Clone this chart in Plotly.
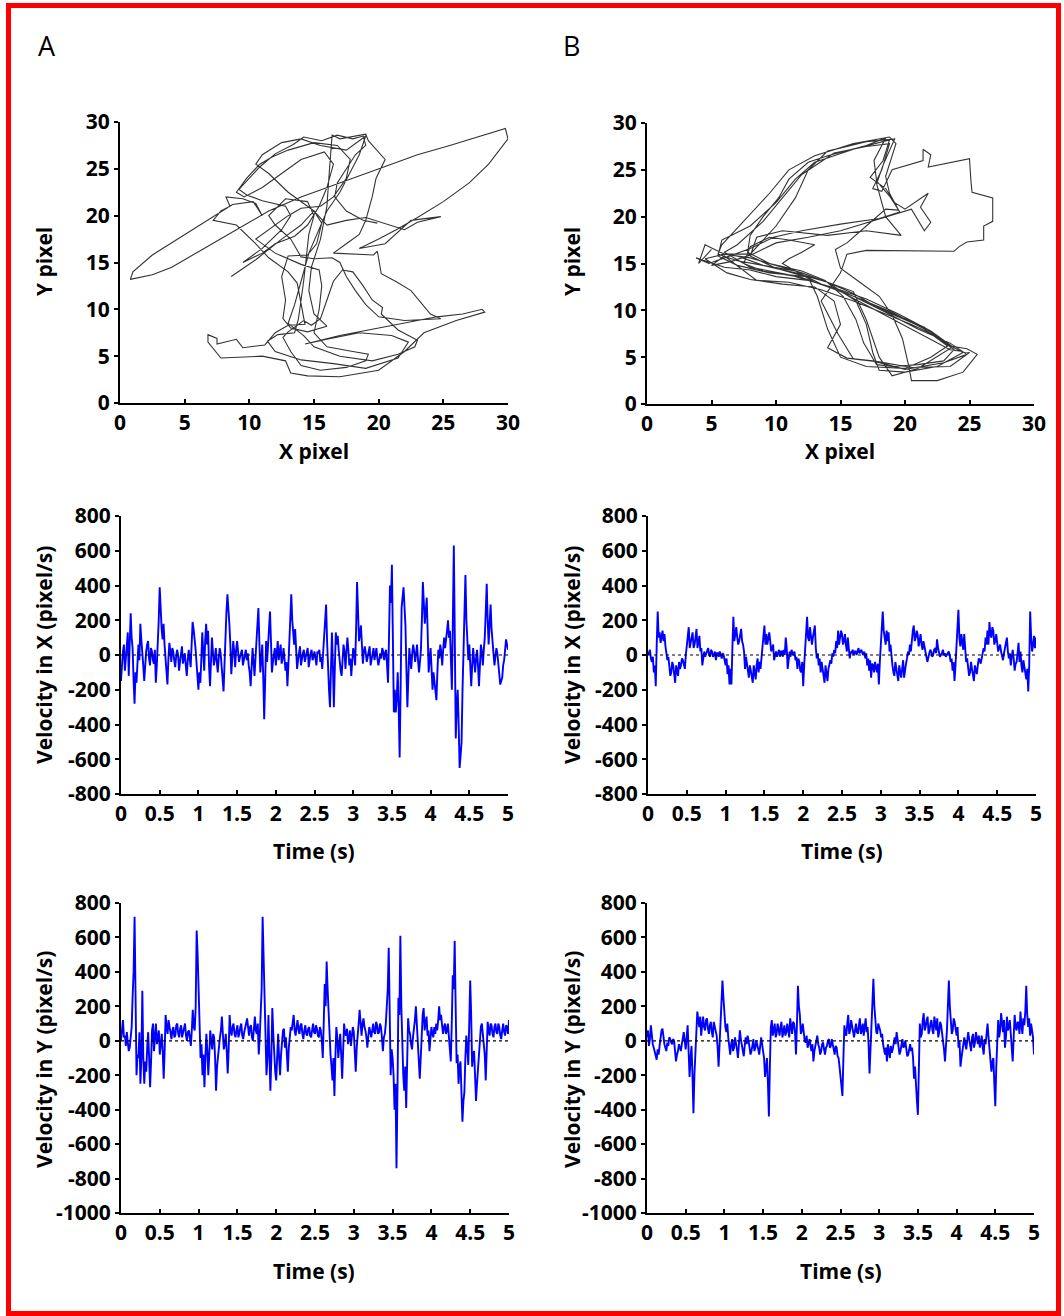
import numpy as np
import plotly.graph_objects as go

# ---------------- data ----------------
sample_step = 0.0125  # s between samples (0..5 s)

vx_a = [-150, -40, 20, 60, -90, -20, 60, 130, -120, 20, 240, 100, 40, -150, -280, -100, -160, -50, 60, -30,
        180, 90, 30, -60, -150, -40, 20, 60, 80, -20, -60, 40, 20, -30, -50, 30, -160, -60, 50, 200,
        390, 220, 150, 90, 180, 60, -40, -110, -170, -20, 70, 20, -40, 40, 20, -30, -70, -10, 30, 0,
        -90, -40, 20, 50, -50, -20, 10, -60, -120, -30, 30, -20, -70, 60, 190, 150, 110, 40, -40, -150,
        -200, -100, -160, -30, 130, 20, -90, 80, 180, 60, 140, -60, -180, -40, 100, 20, -60, -20, 40, -40,
        -100, -20, 40, 10, -70, -130, -210, -50, 150, 250, 350, 280, 180, 60, -110, -20, 80, 20, -70, 30,
        80, 20, -40, -10, 10, 30, -60, -20, 10, 30, -30, 10, -60, -100, -180, -60, 40, -40, -120, -20,
        60, 150, 270, 80, -100, -30, 60, -120, -370, -150, 80, -40, 40, 120, 250, 80, -100, -40, 20, 40,
        -60, 20, 80, -30, 20, 60, -50, -20, 40, -30, -90, -40, -180, -60, 60, 200, 350, 200, 120, 60,
        150, 30, -80, -30, 20, 50, -60, -10, 10, 30, -40, -10, 20, 40, -70, -20, 10, 30, -30, -10,
        20, -20, -60, 20, 10, 30, -40, -10, -80, 20, 100, 200, 290, 80, -120, -200, -300, -100, 130, -50,
        -300, -80, 130, 60, 110, 30, -40, -90, -120, -40, 60, 20, -80, 20, 100, 30, -60, -20, -120, -40,
        40, 10, -60, 150, 420, 250, 80, 120, 170, 60, -50, 20, 50, 10, -40, -10, 30, 50, -60, -20,
        20, 40, -30, 10, 40, -20, -60, -30, 10, -20, 40, 20, -30, 10, 30, -60, -160, 100, 400, 300,
        520, 100, -330, -200, -330, -250, -100, -300, -590, -200, 270, 330, 390, 280, 170, -80, -300, -130, 40, -30,
        -80, 10, 60, 20, -40, 10, 60, -30, -100, -40, 30, 200, 420, 300, 180, 250, 330, 120, -100, -30,
        40, -80, -200, -100, -150, -220, -260, -100, 30, -20, 60, 20, -60, 30, 100, 40, 80, 140, 200, 100,
        140, -40, -200, 200, 630, 100, -480, -300, -200, -400, -650, -580, -500, -200, 40, 250, 460, 200, 100, -30,
        60, -60, -180, -60, 40, -30, -100, -20, 30, -60, -180, -60, 60, 20, -60, 30, 100, 250, 410, 200,
        60, 180, 290, 150, 80, 10, -60, -10, 40, 10, -40, -100, -170, -150, -130, -60, -30, 30, 90, 60,
        30]

vy_a = [0, 60, 120, 20, 30, -30, 50, -10, -60, -40, 20, 80, 260, 400, 720, 250, -200, -80, -100, 50,
        -250, -100, 290, -100, -250, -120, -180, -40, 50, -100, -270, -120, 60, 100, -60, 20, 100, -20, 20, 60,
        -80, -30, 40, -60, -220, -60, 150, 80, 40, 120, 90, 40, 10, 60, 80, 20, 30, 90, 100, 40,
        20, 70, 90, 20, 50, 80, 100, 30, 0, 50, 60, 20, -30, 60, 180, 80, 60, 200, 640, 500,
        340, 100, -100, -20, -200, -80, -270, -100, 40, -60, -200, -80, 60, 0, -50, 40, 20, -100, -290, -150,
        -80, -20, 20, 60, 140, 40, -50, -20, 40, -60, -190, -50, 150, 60, 30, 80, 100, 40, 20, 60,
        90, 20, 40, 80, 100, 30, 10, 50, 70, 100, 130, 60, 30, 80, 90, 20, 0, 70, 140, 60,
        40, 100, -80, 20, 150, 300, 720, 500, 350, 100, -200, -100, 150, -80, -290, -100, 190, 40, -100, -180,
        -230, -80, 40, -100, -200, -80, 30, 60, 70, -40, 20, -60, -180, -40, 40, 80, 60, 100, 150, 60,
        30, 80, 120, 60, 40, 90, 100, 40, 10, 60, 90, 40, 30, 70, 80, 30, 20, 60, 100, 50,
        40, 90, 70, 30, 20, 80, 60, 0, -100, 100, 330, 200, 460, 300, 130, 20, -80, -150, -230, -100,
        -320, -100, 80, 20, -100, -30, 40, -80, -220, -60, 100, 40, 30, 70, -20, 20, 60, -30, 20, 80,
        50, -60, -180, -40, 60, 100, 180, 60, 30, 100, 130, 80, 60, 20, -40, 30, 80, 50, 20, 60,
        100, 50, 40, 110, 90, 40, 50, 100, 80, 20, -60, 20, 40, 100, 200, 300, 540, 100, -200, -50,
        -100, -200, -400, -250, -740, -300, 250, 150, 610, 200, -100, -200, -290, -150, -390, -100, 130, 60, 40, -20,
        -50, 20, 60, 120, 200, 90, 30, -60, -220, -100, 80, 150, 190, 60, 100, 140, 30, 60, -60, 20,
        80, 40, 20, 80, 40, 100, 60, 120, 200, 120, 150, 90, 40, 80, 100, 40, 60, 100, 30, -40,
        -120, 100, 380, 300, 580, 200, -130, -80, -250, -150, -120, -300, -470, -350, -300, -100, 30, -40, -140, 100,
        350, 150, -150, -80, -60, -200, -350, -250, -150, -60, 40, 80, 100, 40, 20, -80, -230, -100, 110, 60,
        30, 100, 90, 40, 20, 80, 100, 50, 40, 100, 80, 30, 10, 60, 100, 50, 30, 90, 80, 40,
        120]

vx_b = [0, 20, 30, -20, -40, -10, -100, -60, -180, 60, 250, 100, 130, 70, 110, 140, 80, 120, 50, 10,
        -30, -10, -60, -120, -100, -40, -60, -130, -160, -60, -90, -120, -40, -80, -60, -20, -30, -50, -80, 0,
        60, 100, 160, 40, 80, 120, 130, 40, 60, 100, 150, 40, 80, 110, 20, 40, -60, 0, 20, -10,
        10, 30, 40, 0, -10, 30, 20, -10, 0, 20, -30, 10, 10, -10, 20, 0, -20, 10, 0, -30,
        -60, -20, -110, -60, -170, -80, -170, 40, 220, 80, 120, 160, 100, 60, 80, 120, 150, 80, 60, 20,
        -80, -10, -40, -90, -130, -60, -90, -140, -160, -60, -100, -140, -60, -20, -100, -40, -80, -20, 70, 120,
        170, 60, 120, 60, 90, 130, 80, 20, 40, 60, -30, 0, 20, -10, 10, 30, -10, 20, 20, -10,
        30, 0, 100, 40, -80, -20, 20, -10, 30, 10, 0, 20, -30, -10, -80, -20, -40, -90, -100, -40,
        -180, -60, 60, 120, 220, 100, 80, 160, 120, 60, 100, 140, 170, 40, -20, 10, -60, -20, -100, -40,
        -80, -120, -160, -60, -120, -150, -80, -40, -30, -50, 10, -10, 30, 10, 80, 40, 140, 60, 110, 140,
        120, 60, 80, 120, 60, 20, 100, 40, -20, 20, 10, 30, 0, 20, 20, 0, 30, 40, 10, 20,
        30, 10, 0, 20, -20, 10, -60, -20, -90, -30, -130, -50, -60, -100, -40, -70, -100, -50, -170, -40,
        40, 150, 250, 140, 100, 60, 140, 80, 130, 20, 60, -20, -60, -100, -120, -40, -80, -140, -150, -60,
        -100, -130, -80, -30, -130, -80, -50, -20, 20, 0, 60, 20, 100, 140, 170, 80, 100, 140, 120, 50,
        80, 120, 60, 30, 80, 40, 20, -10, -40, 0, 10, 30, 20, -10, 0, 30, 40, 10, 90, 40,
        20, -10, 0, 10, 30, 0, 10, -10, 0, 10, 20, 0, -40, -20, -90, -40, -150, -60, 60, 150,
        260, 100, 50, 120, 80, 30, 120, 40, -40, -20, -60, -120, -100, -40, -80, -130, -150, -60, -90, -110,
        -60, -20, -30, -50, -20, 10, 40, 20, 100, 60, 140, 60, 190, 120, 100, 160, 140, 60, 80, 120,
        60, 20, 40, 60, 20, 0, -30, 10, 40, 80, 100, 20, -20, 10, -60, -10, 30, -20, -90, -50,
        -40, 10, 70, -40, 20, -60, -100, -30, -60, -100, -140, -80, -210, -60, 250, 100, 20, 60, 110, 40,
        100]

vy_b = [20, 60, -30, 10, 90, 30, -20, -40, -60, -90, -110, -50, -80, -30, 20, 60, 70, 10, -20, -40,
        -60, -10, -30, 20, 10, -10, -20, 10, 0, -60, -120, -80, -60, -20, -40, -60, -20, 20, 50, 0,
        -50, 20, 90, -60, -210, -100, -30, -200, -420, -200, -50, 80, 170, 120, 80, 140, 30, 90, 140, 80,
        60, 120, 130, 70, 40, 90, 110, 50, 20, 110, 80, 40, 30, -40, -150, -20, 100, 200, 350, 250,
        150, 80, 50, 100, 20, -30, -80, -20, 10, -60, -40, 20, -10, -50, -100, -20, 60, 10, -20, -60,
        -90, -30, 20, -20, 30, 0, -30, -80, -60, -20, 10, -60, -40, 0, -20, -50, -80, -30, 20, -20,
        -50, -100, -210, -150, -100, -250, -440, -150, 80, 120, 30, 60, 100, 20, 40, 100, 60, 30, 80, 110,
        20, 60, 90, 30, 50, 100, 60, 20, 130, 70, 40, 110, 100, 50, -80, 100, 320, 200, 150, 40,
        60, 100, 30, 0, -10, 30, -40, -20, 10, -30, -60, -20, -120, -60, -20, 10, 30, -20, -40, -80,
        -60, -20, -10, -50, -80, -40, -30, 0, 10, -40, -30, 10, -20, -60, -80, -30, -40, -90, -100, -150,
        -210, -260, -320, -100, 90, 40, 30, 100, 150, 40, 60, 120, 80, 40, 20, 60, 100, 50, 40, 90,
        130, 40, 60, 100, 30, 80, 130, 50, 80, -20, -190, -50, 100, 200, 360, 200, 100, 50, 40, 100,
        80, 60, 20, 40, -20, -50, -80, -40, -120, -20, -60, -100, -30, -70, -50, 0, 20, -20, 50, 10,
        -40, -80, -60, -20, 10, -40, -30, 0, -50, -90, -80, -40, -20, -60, -40, -100, -220, -150, -300, -350,
        -430, -100, 100, 20, 40, 120, 160, 60, 80, 120, 140, 40, 60, 100, 120, 60, 40, 140, 100, 60,
        130, 20, 50, 110, 90, 40, 20, -50, -120, -40, 60, 200, 350, 200, 100, 40, 60, 130, 110, 60,
        30, 80, -40, 0, -150, -100, -60, -20, 20, -20, -50, 0, 50, 10, -30, -60, 20, 40, -40, -10,
        50, 20, -20, 30, -40, -10, 30, -40, -80, 10, -20, 40, 100, 20, -40, -100, -180, -120, -100, -250,
        -380, -150, 60, 120, 20, 60, 160, 100, 50, 120, -40, 20, 140, 60, 80, 120, 30, -40, -120, 20,
        150, 80, 60, 110, 100, 40, 170, 90, 40, 130, 90, 170, 320, 150, 80, 130, 30, 100, 60, 20,
        -80]

traj_a_x = [8.6, 10.5, 12.5, 14.0, 15.0, 15.6, 15.2, 14.5, 13.0, 12.5, 12.8, 12.6, 13.2, 14.5, 16.0, 15.0,
            14.6, 14.8, 15.5, 16.0, 16.2, 16.4, 17.0, 19.0, 19.2, 20.5, 19.8, 19.5, 19.0, 18.5, 17.5, 16.5,
            19.6, 19.9, 20.2, 21.3, 22.5, 23.2, 24.0, 24.8, 22.0, 20.0, 19.0, 18.2, 17.5, 17.0, 16.4, 15.0,
            14.0, 13.2, 12.0, 11.5, 12.8, 14.5, 15.0, 14.6, 14.2, 13.8, 13.5, 12.2, 11.4, 12.0, 14.0, 16.5,
            19.0, 21.5, 22.3, 21.0, 18.5, 16.0, 14.3, 17.0, 20.0, 22.0, 24.5, 26.5, 28.0, 28.2, 26.0, 23.5,
            22.0, 20.0, 17.0, 14.5, 13.2, 12.8, 11.0, 7.8, 6.8, 6.8, 7.5, 7.5, 9.0, 9.5, 11.2, 12.0,
            13.0, 14.3, 14.0, 13.7, 13.0, 11.5, 10.5, 9.0, 7.2, 7.8, 8.5, 8.2, 9.5, 10.5, 11.0, 10.3,
            8.7, 5.0, 2.5, 1.0, 0.8, 2.5, 4.0, 6.5, 9.0, 11.5, 14.0, 17.0, 20.0, 23.0, 25.5, 27.5,
            29.8, 30.0, 28.5, 27.0, 25.0, 23.0, 21.5, 20.0, 18.5, 20.5, 22.5, 24.8, 23.0, 22.0, 19.0, 17.5,
            16.0, 15.0, 13.0, 11.5, 10.5, 11.0, 12.5, 14.0, 15.5, 17.5, 19.0, 18.5, 17.0, 16.0, 14.6, 14.0,
            13.5, 13.0, 14.2, 15.0, 17.0, 19.5, 21.5, 22.8, 23.0,
            21.5, 20.2, 20.3, 19.5, 18.8, 18.0, 17.2, 16.5, 16.0, 15.5, 14.8, 14.2, 13.0, 12.6, 13.2, 14.0,
            15.5, 17.5, 19.0, 19.2, 18.0, 16.0, 15.0, 15.4, 15.6, 15.4, 14.0, 12.0, 10.5, 11.5, 13.0, 14.0,
            15.5, 16.5, 17.5, 17.8, 16.8, 15.0, 13.0, 11.8, 10.8, 9.8, 9.0, 9.6, 11.0, 12.5, 14.0, 15.8,
            16.5, 16.0, 15.4, 14.5, 13.5, 12.0, 11.0, 9.5,
            11.0, 12.5, 13.2, 12.8, 11.0, 9.8, 9.2, 10.0, 10.8, 12.0, 13.4, 14.2, 15.6, 16.8, 18.0, 18.8,
            19.0, 18.2, 17.5, 16.8, 16.6, 17.5, 18.8, 19.9]
traj_a_y = [13.5, 15.3, 17.5, 19.0, 20.5, 19.2, 17.0, 15.8, 15.7, 13.5, 11.0, 9.0, 8.0, 7.6, 8.2, 9.5,
            12.0, 14.5, 17.5, 21.0, 25.0, 28.6, 28.2, 28.7, 28.0, 26.0, 24.0, 22.0, 19.5, 18.0, 17.0, 16.0,
            15.8, 16.2, 13.8, 13.0, 12.0, 10.8, 9.5, 9.0, 8.8, 9.2, 10.5, 12.0, 13.5, 15.0, 15.5, 15.4,
            15.6, 17.5, 19.0, 20.0, 21.8, 21.5, 20.0, 18.0, 13.0, 9.0, 7.5, 7.3, 6.6, 5.5, 4.6, 4.2,
            3.7, 4.8, 6.5, 7.2, 7.5, 6.8, 6.3, 7.2, 8.0, 8.5, 9.2, 9.5, 10.0, 9.7, 8.8, 7.5,
            5.5, 3.5, 2.8, 2.9, 3.2, 4.5, 5.0, 4.8, 6.5, 7.3, 6.9, 6.3, 6.8, 5.9, 6.2, 7.5,
            8.3, 8.4, 10.5, 12.8, 14.0, 15.5, 17.0, 19.0, 19.5, 20.5, 21.0, 22.0, 21.8, 21.3, 20.0, 21.5,
            21.2, 18.0, 15.8, 14.0, 13.2, 13.7, 14.5, 16.5, 18.5, 20.5, 22.0, 23.5, 25.0, 26.5, 27.5, 28.3,
            29.3, 28.2, 25.5, 23.5, 21.5, 19.8, 18.6, 17.5, 16.5, 17.0, 19.5, 19.9, 19.3, 18.5, 19.8, 19.5,
            19.0, 20.5, 22.5, 24.5, 25.5, 26.5, 27.8, 28.2, 27.5, 27.0, 28.5, 26.5, 22.5, 20.5, 16.0, 13.0,
            10.5, 8.5, 7.2, 6.0, 5.0, 4.5, 5.2, 6.0, 6.7,
            7.8, 9.5, 10.2, 11.0, 12.5, 14.0, 14.2, 13.0, 11.0, 9.0, 8.3, 8.8, 7.6, 7.0, 5.5, 4.0,
            3.5, 3.8, 4.5, 5.2, 5.5, 6.0, 7.5, 10.0, 12.5, 14.2, 14.8, 16.0, 17.5, 18.5, 20.0, 20.8,
            21.0, 22.0, 24.0, 26.0, 27.5, 27.8, 27.0, 26.3, 25.5, 24.0, 22.5, 22.0, 23.0, 24.5, 26.0, 26.8,
            25.5, 23.0, 21.0, 19.0, 17.8, 17.0, 16.0, 15.0,
            16.5, 18.5, 20.0, 21.0, 21.6, 22.2, 22.8, 24.0, 25.2, 26.6, 27.6, 28.4, 28.0, 28.6, 28.2, 28.5,
            27.5, 26.5, 25.0, 23.5, 22.0, 20.5, 19.5, 19.2]

traj_b_x = [5.0, 4.0, 4.5, 6.0, 8.0, 10.0, 12.0, 14.0, 16.0, 18.0, 20.0, 22.0, 23.5, 24.8, 25.6, 24.5,
            22.5, 20.5, 20.3, 19.8, 19.0, 18.0, 16.5, 15.0, 14.6, 15.5, 17.0, 18.5, 19.5, 18.8, 18.5, 19.3,
            18.8, 16.0, 13.0, 11.0, 9.5, 7.5, 5.8, 5.5,
            7.0, 9.0, 11.5, 13.5, 16.0, 19.0, 21.5, 23.3, 22.0, 20.0, 17.0, 15.0, 14.0, 13.2, 12.5, 10.0,
            8.0, 8.5, 10.5, 14.0, 17.0, 19.7, 18.5, 17.8, 18.3, 19.2, 17.0, 14.0, 12.5, 11.5, 10.0, 8.0,
            6.0, 4.5,
            6.2, 8.0, 10.5, 13.0, 14.5, 15.0, 14.0, 15.5, 17.5, 20.0, 23.0, 24.8, 23.5, 21.0, 18.5, 16.0,
            13.5, 11.0, 8.0, 6.0, 7.0, 9.0, 10.5, 12.0, 14.5, 17.0, 18.8, 18.2, 17.5, 18.2, 19.0, 21.4,
            21.4, 22.0, 21.8, 25.0, 25.1, 25.2, 26.8, 26.8, 26.1, 26.1, 24.8, 24.2, 23.8, 20.0, 17.0, 15.5,
            15.0, 14.0, 13.5, 14.8, 16.0, 18.0, 20.5, 23.5, 25.0, 23.5, 21.0, 18.0, 15.0, 12.0, 9.0, 7.5,
            8.0, 9.5, 11.0, 13.0, 12.0, 11.0, 10.5,
            13.0, 15.5, 18.5, 21.5, 23.6, 21.0, 19.0, 18.0, 17.0, 16.0, 13.0, 9.5, 7.0, 5.5, 5.8, 8.0,
            10.0, 11.5, 13.0, 16.0, 18.8, 18.3, 17.3, 18.5, 19.2, 20.0, 21.8, 21.2, 22.0, 21.5, 20.5, 17.5,
            15.0, 12.5, 10.0, 8.2,
            6.5, 5.0, 6.0, 8.5, 11.0, 13.5, 16.0, 18.5, 20.5, 22.5, 23.8, 23.0, 21.0, 19.0, 17.8, 16.8,
            16.2, 15.2, 13.8, 12.0, 9.5, 7.8, 8.0, 9.0, 10.2, 11.0, 12.5, 14.0, 17.0, 18.5, 17.6, 17.8,
            18.8, 19.6, 18.0, 15.0, 12.0, 9.8, 8.0, 6.0, 4.8, 3.8,
            6.0, 8.0, 10.0, 12.5, 14.5, 17.0, 19.5, 22.0, 23.8, 24.5, 22.5, 20.0, 18.0, 17.5, 17.0, 16.2,
            14.0, 11.5, 9.0, 7.0]
traj_b_y = [16.5, 15.0, 17.0, 16.0, 15.6, 14.8, 14.0, 13.0, 11.8, 10.2, 9.0, 7.8, 6.2, 5.9, 5.3, 3.4,
            2.5, 2.5, 4.0, 7.0, 9.5, 11.5, 13.0, 14.5, 16.5, 17.2, 19.0, 20.8, 20.7, 22.5, 24.3, 27.8,
            28.5, 27.8, 26.5, 25.0, 22.5, 19.5, 17.0, 16.0,
            15.3, 14.8, 14.2, 12.8, 11.5, 9.8, 8.0, 6.2, 5.0, 3.8, 4.0, 5.0, 8.0, 11.5, 13.5, 14.5,
            15.8, 17.8, 18.5, 18.0, 18.5, 18.0, 20.0, 23.5, 25.5, 28.3, 28.0, 27.0, 25.0, 22.0, 19.0, 16.0,
            16.0, 15.5,
            14.0, 13.3, 12.8, 12.5, 11.0, 8.5, 6.0, 4.9, 4.6, 3.7, 4.4, 5.3, 6.5, 8.0, 9.8, 11.5,
            12.8, 13.8, 14.6, 16.2, 17.0, 19.5, 22.0, 24.5, 26.8, 27.5, 27.8, 25.0, 23.0, 22.7, 25.0, 26.0,
            27.2, 26.6, 25.3, 26.2, 24.0, 22.6, 22.0, 19.5, 19.0, 17.5, 17.3, 16.8, 16.3, 16.4, 16.4, 16.0,
            14.0, 12.0, 11.0, 7.5, 4.8, 4.5, 3.9, 4.0, 5.5, 5.8, 7.6, 9.8, 12.0, 13.5, 14.2, 15.0,
            16.8, 17.8, 17.5, 17.0, 16.2, 15.5, 15.0,
            13.0, 11.8, 10.0, 8.2, 6.0, 3.8, 3.0, 5.0, 9.0, 12.0, 13.5, 14.0, 14.8, 15.8, 17.5, 19.0,
            21.5, 24.0, 25.8, 27.2, 28.2, 26.0, 24.2, 23.0, 21.5, 20.8, 22.5, 21.0, 19.4, 18.5, 20.8, 19.5,
            18.5, 17.8, 17.2, 16.0,
            15.2, 14.8, 15.8, 13.2, 13.0, 12.2, 11.0, 9.6, 8.5, 7.2, 5.8, 4.6, 4.2, 4.0, 4.2, 6.5,
            9.0, 11.5, 13.2, 14.2, 15.0, 16.2, 18.0, 20.0, 22.0, 24.0, 25.8, 26.5, 27.6, 28.4, 26.0, 23.8,
            22.2, 20.5, 19.8, 19.2, 18.5, 17.8, 16.6, 15.6, 15.0, 15.6,
            14.6, 14.3, 13.6, 13.2, 12.4, 11.2, 9.6, 7.8, 6.0, 5.5, 4.0, 3.4, 3.6, 5.5, 8.5, 11.0,
            13.0, 14.0, 14.8, 15.8]

pos_ticks = [0, 5, 10, 15, 20, 25, 30]
time_ticks = [0, 0.5, 1, 1.5, 2, 2.5, 3, 3.5, 4, 4.5, 5]
time_labels = ["0", "0.5", "1", "1.5", "2", "2.5", "3", "3.5", "4", "4.5", "5"]
vx_ticks = [-800, -600, -400, -200, 0, 200, 400, 600, 800]
vy_ticks = [-1000, -800, -600, -400, -200, 0, 200, 400, 600, 800]

# ---------------- figure ----------------
W, H = 1064, 1316  # design size in px; everything is placed in fractions of it

FONT = "Open Sans"
tickfont = dict(family=FONT, size=21, color="black", weight="bold")


def px_x(p):
    return p / W


def px_y(p):
    return 1 - p / H


fig = go.Figure()

panels = {
    1: ((120, 508), (122, 403)),
    2: ((647, 1034), (123, 404)),
    3: ((121, 508), (516, 794)),
    4: ((648, 1036), (516, 794)),
    5: ((121, 509), (903, 1213)),
    6: ((647, 1034), (903, 1213)),
}

traj_color = "#333333"
fig.add_trace(go.Scatter(x=traj_a_x, y=traj_a_y, mode="lines",
                         line=dict(color=traj_color, width=1.1), xaxis="x", yaxis="y"))
fig.add_trace(go.Scatter(x=traj_b_x, y=traj_b_y, mode="lines",
                         line=dict(color=traj_color, width=1.1), xaxis="x2", yaxis="y2"))

blue = "#0000FF"
for k, series in zip([3, 4, 5, 6], [vx_a, vx_b, vy_a, vy_b]):
    tt = np.arange(len(series)) * sample_step
    fig.add_trace(go.Scatter(x=tt, y=series, mode="lines",
                             line=dict(color=blue, width=1.9),
                             xaxis=f"x{k}", yaxis=f"y{k}"))
    fig.add_trace(go.Scatter(x=[0, 5], y=[0, 0], mode="lines",
                             line=dict(color="black", width=1.2, dash="dot"),
                             xaxis=f"x{k}", yaxis=f"y{k}"))

layout = dict(autosize=True, margin=dict(l=0, r=0, t=0, b=0, pad=0),
              paper_bgcolor="white", plot_bgcolor="white", showlegend=False)


def labels(vals):
    return [str(v) for v in vals]  # plain hyphen-minus like the source


for k, ((x0, x1), (y0, y1)) in panels.items():
    xs = "xaxis" if k == 1 else f"xaxis{k}"
    ys = "yaxis" if k == 1 else f"yaxis{k}"
    if k <= 2:
        xr, xt, xl, yr, yt = [0, 30], pos_ticks, labels(pos_ticks), [0, 30], pos_ticks
    elif k <= 4:
        xr, xt, xl, yr, yt = [0, 5], time_ticks, time_labels, [-800, 800], vx_ticks
    else:
        xr, xt, xl, yr, yt = [0, 5], time_ticks, time_labels, [-1000, 800], vy_ticks
    anchor_y = "y" if k == 1 else f"y{k}"
    anchor_x = "x" if k == 1 else f"x{k}"
    layout[xs] = dict(domain=[px_x(x0), px_x(x1)], range=xr, tickvals=xt, ticktext=xl,
                      anchor=anchor_y, showline=True, linecolor="black", linewidth=2,
                      ticks="inside", ticklen=4, tickwidth=1.5, tickcolor="black",
                      showgrid=False, zeroline=False, tickfont=tickfont, fixedrange=True,
                      automargin=False)
    layout[ys] = dict(domain=[px_y(y1), px_y(y0)], range=yr, tickvals=yt, ticktext=labels(yt),
                      anchor=anchor_x, showline=True, linecolor="black", linewidth=2,
                      ticks="outside", ticklen=4, tickwidth=1.5, tickcolor="black",
                      showgrid=False, zeroline=False, tickfont=tickfont, fixedrange=True,
                      automargin=False)

fig.update_layout(**layout)

titlefont = dict(family=FONT, size=21, color="black", weight="bold")
ann = []
for cx, cy, txt in [(314, 451, "X pixel"), (840, 451, "X pixel"),
                    (314, 851, "Time (s)"), (842, 851, "Time (s)"),
                    (314, 1271, "Time (s)"), (841, 1271, "Time (s)")]:
    ann.append(dict(x=px_x(cx), y=px_y(cy), xref="paper", yref="paper", text=txt,
                    showarrow=False, font=titlefont, xanchor="center", yanchor="middle"))
for cx, cy, txt in [(44, 262, "Y pixel"), (572, 262, "Y pixel"),
                    (44, 655, "Velocity in X (pixel/s)"), (572, 655, "Velocity in X (pixel/s)"),
                    (44, 1060, "Velocity in Y (pixel/s)"), (572, 1060, "Velocity in Y (pixel/s)")]:
    ann.append(dict(x=px_x(cx), y=px_y(cy), xref="paper", yref="paper", text=txt,
                    showarrow=False, font=titlefont, textangle=-90,
                    xanchor="center", yanchor="middle"))
for cx, cy, txt in [(47, 46, "A"), (571, 46, "B")]:
    ann.append(dict(x=px_x(cx), y=px_y(cy), xref="paper", yref="paper", text=txt,
                    showarrow=False, font=dict(family=FONT, size=27, color="black"),
                    xanchor="center", yanchor="middle"))
fig.update_layout(annotations=ann)

fig.add_shape(type="rect", xref="paper", yref="paper",
              x0=px_x(8.5), x1=px_x(1058.5), y0=px_y(1313.5), y1=px_y(5.5),
              line=dict(color="#FF0000", width=5), fillcolor="rgba(0,0,0,0)", layer="above")

fig.write_html("out.html",
               default_width="100vw", default_height="100vh",
               config={"responsive": True, "displayModeBar": False},
               post_script="document.documentElement.style.margin='0';"
                           "document.body.style.margin='0';document.body.style.padding='0';"
                           "document.body.style.overflow='hidden';"
                           "var gd=document.getElementById('{plot_id}');"
                           "Plotly.Plots.resize(gd);")
